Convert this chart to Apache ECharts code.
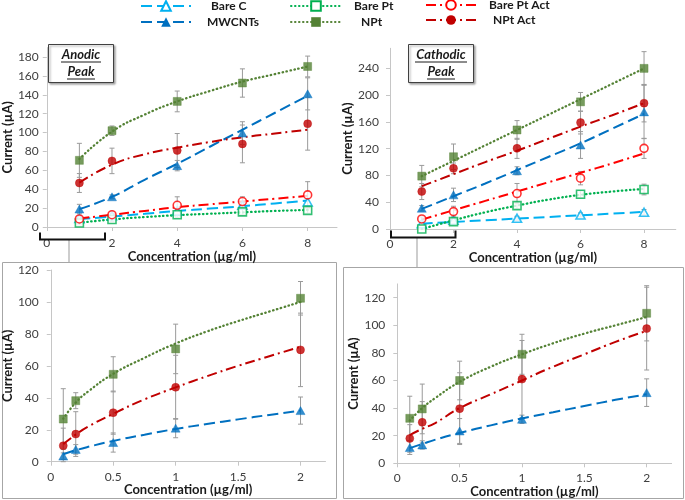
<!DOCTYPE html>
<html><head><meta charset="utf-8">
<script src="https://cdn.jsdelivr.net/npm/echarts@6/dist/echarts.min.js"></script>
<style>html,body{margin:0;padding:0;background:#fff}#c{width:685px;height:500px}</style>
</head><body><div id="c"></div>
<script>
// ---------- data ----------
const seriesNames = ['Bare C', 'MWCNTs', 'Bare Pt', 'NPt', 'Bare Pt Act', 'NPt Act'];
const xTop = [1, 2, 4, 6, 8];
const xTopTrend = [1, 2, 3, 4, 5, 6, 7, 8];
const xBot = [0.1, 0.2, 0.5, 1, 2];
const xBotTrend = [0.1, 0.2, 0.3, 0.5, 0.75, 1, 1.25, 1.5, 1.75, 2];
const topXTicks = [0, 2, 4, 6, 8];
const botXTicks = [0, 0.5, 1, 1.5, 2];
const anYTicks = [0, 20, 40, 60, 80, 100, 120, 140, 160, 180];
const caYTicks = [0, 40, 80, 120, 160, 200, 240];
const blYTicks = [0, 20, 40, 60, 80, 100, 120];
const brYTicks = [0, 20, 40, 60, 80, 100, 120];

// Anodic peak (top-left)
const anBareC = [9, 12, 17, 23, 26.5];
const anBareCErr = [2, 2, 3, 3, 4];
const anBareCTrend = [8.5, 11, 14, 17, 19.5, 22, 25, 28];
const anMWCNT = [19, 32, 65, 99.5, 141];
const anMWCNTErr = [5, 2, 5.5, 12, 17];
const anMWCNTTrend = [19, 32, 50, 67, 85, 103, 121, 139];
const anBarePt = [4.2, 8, 13, 16, 17.6];
const anBarePtErr = [2, 2, 3, 3, 3];
const anBarePtTrend = [4.5, 8, 10.5, 12.5, 14, 15.5, 17, 18];
const anNPt = [70.6, 102, 133, 152.5, 170];
const anNPtErr = [18, 5, 11, 15, 11];
const anNPtTrend = [72, 101, 119, 133, 144, 154, 162, 170];
const anBarePtAct = [8.5, 13, 23, 27, 34];
const anBarePtActErr = [3, 3, 9, 5, 14];
const anBarePtActTrend = [9, 13, 17, 21, 24, 27, 30, 33];
const anNPtAct = [46.6, 70, 81, 88, 109.4];
const anNPtActErr = [10, 13.5, 18, 20, 28];
const anNPtActTrend = [47, 66, 77, 84, 90, 95, 99, 103];

// Cathodic peak (top-right)
const caBareC = [8, 13, 16, 21, 25];
const caBareCErr = [2, 3, 3, 3, 4];
const caBareCTrend = [8, 10.5, 13, 15.5, 18, 20.5, 23, 25.5];
const caMWCNT = [31, 51, 87, 125.5, 175];
const caMWCNTErr = [4, 10, 6, 20, 40];
const caMWCNTTrend = [30, 49, 68, 88, 108, 128, 150, 172];
const caBarePt = [0, 11, 35, 52, 59];
const caBarePtErr = [3, 3, 5, 5, 8];
const caBarePtTrend = [0, 13, 25, 35, 44, 51, 56, 60];
const caNPt = [79, 108, 148, 190, 240];
const caNPtErr = [16, 19, 14, 14, 25];
const caNPtTrend = [79, 102, 125, 148, 171, 194, 217, 240];
const caBarePtAct = [15, 26, 53, 76, 120.5];
const caBarePtActErr = [3, 8, 15, 10, 15];
const caBarePtActTrend = [14, 28, 42, 56, 70, 84, 98, 113];
const caNPtAct = [56, 90.6, 120.5, 159, 188];
const caNPtActErr = [12, 8, 15, 17, 28];
const caNPtActTrend = [64, 82, 100, 117, 135, 153, 170, 188];

// Anodic low range (bottom-left)
const blMWCNT = [3.5, 7.7, 12, 21, 32];
const blMWCNTErr = [2, 3, 6, 6, 8.5];
const blMWCNTTrend = [4.7, 7.2, 9.3, 13, 16.9, 20.5, 23.6, 26.5, 29.3, 32];
const blNPt = [26.7, 38.2, 54.7, 70.6, 102.3];
const blNPtErr = [19, 5, 11, 15.5, 10.5];
const blNPtTrend = [27, 37, 44, 55, 65, 74, 81.5, 88, 94, 100];
const blNPtAct = [10, 17.3, 30.7, 46.6, 70];
const blNPtActErr = [11, 14, 13.5, 20, 23];
const blNPtActTrend = [11, 17, 22, 30, 39, 46.5, 53.5, 60, 66, 72];

// Cathodic low range (bottom-right)
const brMWCNT = [11.4, 13.3, 23.4, 31.9, 51.2];
const brMWCNTErr = [5, 3, 9, 3, 10];
const brMWCNTTrend = [11, 14, 17, 22, 27.5, 32.5, 37, 41.5, 46, 50];
const brNPt = [32.6, 39.4, 60, 79, 108.7];
const brNPtErr = [16, 18, 14, 14.5, 20];
const brNPtTrend = [31, 40, 47, 59, 70, 79, 87, 94, 100, 106];
const brNPtAct = [18, 29.7, 39.6, 61, 97.6];
const brNPtActErr = [10, 15, 26, 28, 30];
const brNPtActTrend = [20.5, 25, 29, 40, 50, 60, 70, 79, 88, 96];

// ---------- styles ----------
const FONT = 'Lato';
const styles = {
  'Bare C':      {color: '#00B0F0', symbol: 'triangle', empty: true,  dash: [11, 5],         width: 2,   size: 9, cap: 'butt'},
  'MWCNTs':      {color: '#0070C0', symbol: 'triangle', empty: false, dash: [11, 5],         width: 2,   size: 9, cap: 'butt'},
  'Bare Pt':     {color: '#00B050', symbol: 'rect',     empty: true,  dash: [0.5, 3.5],      width: 2.3, size: 8, cap: 'round'},
  'NPt':         {color: '#548235', symbol: 'rect',     empty: false, dash: [0.5, 3.5],      width: 2.3, size: 8, cap: 'round'},
  'Bare Pt Act': {color: '#FF0000', symbol: 'circle',   empty: true,  dash: [10, 4, 2, 4],   width: 2,   size: 8, cap: 'butt'},
  'NPt Act':     {color: '#C00000', symbol: 'circle',   empty: false, dash: [10, 4, 2, 4],   width: 2,   size: 8, cap: 'butt'}
};

const series = [];
const trendSeries = [], errSeries = [], pointSeries = [];
function addSet(gi, name, xs, ys, errs, xt, yt) {
  const s = styles[name];
  trendSeries.push({
    type: 'line', name: name, xAxisIndex: gi, yAxisIndex: gi,
    data: xt.map((x, i) => [x, yt[i]]), smooth: true,
    symbol: s.empty ? 'empty' + s.symbol.charAt(0).toUpperCase() + s.symbol.slice(1) : s.symbol,
    showSymbol: false, color: s.color,
    lineStyle: {color: s.color, width: s.width, type: s.dash, cap: s.cap},
    z: 3, silent: true, animation: false
  });
  errSeries.push({
    type: 'custom', xAxisIndex: gi, yAxisIndex: gi, z: 2, silent: true, animation: false,
    data: xs.map((x, i) => [x, ys[i], errs[i]]),
    renderItem: function (params, api) {
      const x = api.value(0), y = api.value(1), e = api.value(2);
      const t = api.coord([x, y + e]);
      const b = api.coord([x, Math.max(0, y - e)]);
      const w = 2.5, st = {stroke: '#9a9a9a', lineWidth: 1};
      return {type: 'group', children: [
        {type: 'line', shape: {x1: t[0], y1: t[1], x2: b[0], y2: b[1]}, style: st},
        {type: 'line', shape: {x1: t[0] - w, y1: t[1], x2: t[0] + w, y2: t[1]}, style: st},
        {type: 'line', shape: {x1: b[0] - w, y1: b[1], x2: b[0] + w, y2: b[1]}, style: st}
      ]};
    }
  });
  pointSeries.push({
    type: 'scatter', name: name, xAxisIndex: gi, yAxisIndex: gi, z: 4, silent: true, animation: false,
    data: xs.map((x, i) => [x, ys[i]]),
    symbol: s.symbol, symbolSize: s.symbol === 'triangle' ? [9, 8] : s.size,
    itemStyle: s.empty ? {color: '#fff', borderColor: s.color, borderWidth: 1.6} : {color: s.color, borderColor: s.color, borderWidth: 0.5}
  });
}

// top-left
addSet(0, 'Bare C', xTop, anBareC, anBareCErr, xTopTrend, anBareCTrend);
addSet(0, 'MWCNTs', xTop, anMWCNT, anMWCNTErr, xTopTrend, anMWCNTTrend);
addSet(0, 'Bare Pt', xTop, anBarePt, anBarePtErr, xTopTrend, anBarePtTrend);
addSet(0, 'NPt', xTop, anNPt, anNPtErr, xTopTrend, anNPtTrend);
addSet(0, 'Bare Pt Act', xTop, anBarePtAct, anBarePtActErr, xTopTrend, anBarePtActTrend);
addSet(0, 'NPt Act', xTop, anNPtAct, anNPtActErr, xTopTrend, anNPtActTrend);
// top-right
addSet(1, 'Bare C', xTop, caBareC, caBareCErr, xTopTrend, caBareCTrend);
addSet(1, 'MWCNTs', xTop, caMWCNT, caMWCNTErr, xTopTrend, caMWCNTTrend);
addSet(1, 'Bare Pt', xTop, caBarePt, caBarePtErr, xTopTrend, caBarePtTrend);
addSet(1, 'NPt', xTop, caNPt, caNPtErr, xTopTrend, caNPtTrend);
addSet(1, 'Bare Pt Act', xTop, caBarePtAct, caBarePtActErr, xTopTrend, caBarePtActTrend);
addSet(1, 'NPt Act', xTop, caNPtAct, caNPtActErr, xTopTrend, caNPtActTrend);
// bottom-left
addSet(2, 'MWCNTs', xBot, blMWCNT, blMWCNTErr, xBotTrend, blMWCNTTrend);
addSet(2, 'NPt', xBot, blNPt, blNPtErr, xBotTrend, blNPtTrend);
addSet(2, 'NPt Act', xBot, blNPtAct, blNPtActErr, xBotTrend, blNPtActTrend);
// bottom-right
addSet(3, 'MWCNTs', xBot, brMWCNT, brMWCNTErr, xBotTrend, brMWCNTTrend);
addSet(3, 'NPt', xBot, brNPt, brNPtErr, xBotTrend, brNPtTrend);
addSet(3, 'NPt Act', xBot, brNPtAct, brNPtActErr, xBotTrend, brNPtActTrend);
series.push(...trendSeries, ...errSeries, ...pointSeries);

// ---------- layout ----------
const grids = [
  {left: 41, top: 47.6, width: 296, height: 179.4},
  {left: 390, top: 48.3, width: 285.8, height: 180.7},
  {left: 45.7, top: 270, width: 279.8, height: 191.7},
  {left: 397.3, top: 283.9, width: 274.3, height: 179.4}
];
const axisLineColor = '#c6c6c6';
const tickLabel = {fontFamily: FONT, fontSize: 12, color: '#404040'};
const nameStyle = {fontFamily: FONT, fontSize: 13, fontWeight: 'bold', color: '#1a1a1a'};
const xCfg = [
  {max: 8.9, interval: 2, ticks: topXTicks, gap: 17, margin: 10},
  {max: 9, interval: 2, ticks: topXTicks, gap: 20, margin: 9},
  {max: 2.2, interval: 0.5, ticks: botXTicks, gap: 20, margin: 9},
  {max: 2.2, interval: 0.5, ticks: botXTicks, gap: 19, margin: 9}
];
const yCfg = [
  {max: 190, interval: 20, ticks: anYTicks, gap: 26, margin: 8},
  {max: 270, interval: 40, ticks: caYTicks, gap: 27, margin: 11},
  {max: 120, interval: 20, ticks: blYTicks, gap: 25, margin: 12},
  {max: 130, interval: 20, ticks: brYTicks, gap: 31, margin: 12}
];
const xAxis = xCfg.map((c, i) => ({
  type: 'value', gridIndex: i, min: 0, max: c.max, interval: c.interval,
  name: 'Concentration (µg/ml)', nameLocation: 'middle', nameGap: c.gap, nameTextStyle: nameStyle,
  axisLine: {show: true, lineStyle: {color: axisLineColor, width: 1}},
  axisTick: {show: true, length: 4, customValues: c.ticks, lineStyle: {color: axisLineColor}},
  splitLine: {show: false},
  axisLabel: Object.assign({margin: c.margin, customValues: c.ticks}, tickLabel)
}));
const yAxis = yCfg.map((c, i) => ({
  type: 'value', gridIndex: i, min: 0, max: c.max, interval: c.interval,
  name: 'Current (µA)', nameLocation: 'middle', nameGap: c.gap, nameRotate: 90, nameTextStyle: nameStyle,
  axisLine: {show: true, lineStyle: {color: axisLineColor, width: 1}},
  axisTick: {show: true, length: 4, customValues: c.ticks, lineStyle: {color: axisLineColor}},
  splitLine: {show: false},
  axisLabel: Object.assign({margin: c.margin, customValues: c.ticks}, tickLabel)
}));

// legend
const legendPos = [
  {name: 'Bare C', left: 140, top: 0, pad: 15},
  {name: 'MWCNTs', left: 140, top: 16, pad: 11},
  {name: 'Bare Pt', left: 290, top: 0, pad: 8},
  {name: 'NPt', left: 290, top: 16, pad: 15},
  {name: 'Bare Pt Act', left: 425, top: -1, pad: 8},
  {name: 'NPt Act', left: 425, top: 14, pad: 12}
];
const legend = legendPos.map(l => ({
  data: [l.name], left: l.left, top: l.top, padding: 0, itemWidth: 50, itemHeight: 12,
  selectedMode: false,
  textStyle: {fontFamily: FONT, fontWeight: 'bold', fontSize: 12, color: '#1a1a1a', padding: [0, 0, 0, l.pad]}
}));

// decorations
const boxStroke = '#a6a6a6';
const graphic = [
  {type: 'rect', shape: {x: 2.5, y: 262.5, width: 334, height: 236}, style: {fill: null, stroke: boxStroke, lineWidth: 1}, z: -1},
  {type: 'rect', shape: {x: 343.5, y: 267.5, width: 340, height: 231}, style: {fill: null, stroke: boxStroke, lineWidth: 1}, z: -1},
  {type: 'line', shape: {x1: 69, y1: 240, x2: 69, y2: 262}, style: {stroke: '#bdbdbd', lineWidth: 1.5}},
  {type: 'line', shape: {x1: 417, y1: 238, x2: 417, y2: 267}, style: {stroke: '#bdbdbd', lineWidth: 1.5}},
  {type: 'polyline', shape: {points: [[40, 232.5], [40, 239.5], [105, 239.5], [105, 232.5]]}, style: {fill: null, stroke: '#111', lineWidth: 2}, z: 10},
  {type: 'polyline', shape: {points: [[391, 230.5], [391, 237.5], [455.5, 237.5], [455.5, 230.5]]}, style: {fill: null, stroke: '#111', lineWidth: 2}, z: 10},
  // text boxes
  {type: 'rect', shape: {x: 48.5, y: 44.5, width: 65, height: 38}, style: {fill: '#fff', stroke: '#404040', lineWidth: 1, shadowBlur: 2, shadowOffsetX: 1.5, shadowOffsetY: 1.5, shadowColor: 'rgba(0,0,0,0.35)'}, z: 20},
  {type: 'text', x: 81, y: 55, style: {text: 'Anodic', fontFamily: FONT, fontSize: 13, fontWeight: 'bold', fontStyle: 'italic', fill: '#1a1a1a', align: 'center', verticalAlign: 'middle'}, z: 21},
  {type: 'line', shape: {x1: 61, y1: 62, x2: 101, y2: 62}, style: {stroke: '#1a1a1a', lineWidth: 1}, z: 21},
  {type: 'text', x: 81, y: 72, style: {text: 'Peak', fontFamily: FONT, fontSize: 13, fontWeight: 'bold', fontStyle: 'italic', fill: '#1a1a1a', align: 'center', verticalAlign: 'middle'}, z: 21},
  {type: 'line', shape: {x1: 67, y1: 79, x2: 95, y2: 79}, style: {stroke: '#1a1a1a', lineWidth: 1}, z: 21},
  {type: 'rect', shape: {x: 408.5, y: 44.5, width: 65, height: 38}, style: {fill: '#fff', stroke: '#404040', lineWidth: 1, shadowBlur: 2, shadowOffsetX: 1.5, shadowOffsetY: 1.5, shadowColor: 'rgba(0,0,0,0.35)'}, z: 20},
  {type: 'text', x: 441, y: 55, style: {text: 'Cathodic', fontFamily: FONT, fontSize: 13, fontWeight: 'bold', fontStyle: 'italic', fill: '#1a1a1a', align: 'center', verticalAlign: 'middle'}, z: 21},
  {type: 'line', shape: {x1: 415, y1: 62, x2: 467, y2: 62}, style: {stroke: '#1a1a1a', lineWidth: 1}, z: 21},
  {type: 'text', x: 441, y: 72, style: {text: 'Peak', fontFamily: FONT, fontSize: 13, fontWeight: 'bold', fontStyle: 'italic', fill: '#1a1a1a', align: 'center', verticalAlign: 'middle'}, z: 21},
  {type: 'line', shape: {x1: 427, y1: 79, x2: 455, y2: 79}, style: {stroke: '#1a1a1a', lineWidth: 1}, z: 21}
];

const chart = echarts.init(document.getElementById('c'), null, {renderer: 'canvas'});
chart.setOption({
  animation: false,
  backgroundColor: '#fff',
  textStyle: {fontFamily: FONT},
  grid: grids,
  xAxis: xAxis,
  yAxis: yAxis,
  legend: legend,
  graphic: graphic,
  series: series
});
</script></body></html>
